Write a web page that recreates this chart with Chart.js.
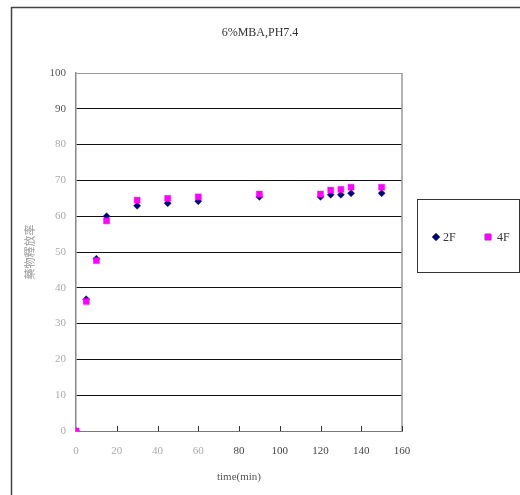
<!DOCTYPE html>
<html>
<head>
<meta charset="utf-8">
<script src="https://cdn.jsdelivr.net/npm/chart.js@4/dist/chart.umd.min.js"></script>
<style>
html,body{margin:0;padding:0;background:#fff;}
canvas{display:block;}
</style>
</head>
<body>
<canvas id="c" width="520" height="495"></canvas>
<script>
const chartTitle = '6%MBA,PH7.4';
const xTitle = 'time(min)';
const yTitle = '藥物釋放率';
const times = [0, 5, 10, 15, 30, 45, 60, 90, 120, 125, 130, 135, 150];
const series2F = [0, 36.8, 48.1, 60.0, 62.9, 63.6, 64.2, 65.4, 65.4, 66.0, 66.0, 66.4, 66.4];
const series4F = [0, 36.2, 47.6, 58.7, 64.5, 65.0, 65.4, 66.2, 66.2, 67.3, 67.5, 68.1, 68.1];
const seriesNames = ['2F', '4F'];
const xTicks = [0, 20, 40, 60, 80, 100, 120, 140, 160];
const yTicks = [0, 10, 20, 30, 40, 50, 60, 70, 80, 90, 100];

const FONT = "'Liberation Serif', 'Times New Roman', serif";
const CJK = "'Liberation Serif', 'Noto Sans CJK TC', serif";

const toPts = (xs, ys) => xs.map((x, i) => ({x: x, y: ys[i]}));

const decor = {
  id: 'decor',
  beforeDraw(chart) {
    const ctx = chart.ctx;
    ctx.save();
    ctx.fillStyle = '#fff';
    ctx.fillRect(0, 0, chart.width, chart.height);
    ctx.restore();
  },
  afterDraw(chart) {
    const ctx = chart.ctx;
    const a = chart.chartArea;
    const xs = chart.scales.x;
    ctx.save();
    // outer frame
    ctx.strokeStyle = '#444';
    ctx.lineWidth = 1.5;
    ctx.strokeRect(11.5, 7.5, 530, 520);
    // plot right border
    ctx.strokeStyle = '#999';
    ctx.lineWidth = 1.5;
    ctx.beginPath();
    ctx.moveTo(a.right, a.top);
    ctx.lineTo(a.right, a.bottom);
    ctx.stroke();
    // inward x tick marks
    ctx.strokeStyle = '#333';
    ctx.lineWidth = 1;
    xs.ticks.forEach(t => {
      if (t.value === 0) return;
      const px = Math.round(xs.getPixelForValue(t.value)) + 0.5;
      ctx.beginPath();
      ctx.moveTo(px, a.bottom);
      ctx.lineTo(px, a.bottom - 5);
      ctx.stroke();
    });
    // legend
    ctx.strokeStyle = '#333';
    ctx.lineWidth = 1;
    ctx.strokeRect(417.5, 199.5, 102, 73);
    const ly = 237;
    const items = [
      {ds: chart.data.datasets[0], mx: 436, tx: 443},
      {ds: chart.data.datasets[1], mx: 488, tx: 497}
    ];
    items.forEach(it => {
      Chart.helpers.drawPoint(ctx, {
        pointStyle: it.ds.pointStyle,
        radius: it.ds.pointRadius,
        borderWidth: it.ds.pointBorderWidth,
        rotation: 0
      }, it.mx, ly);
      ctx.fillStyle = it.ds.backgroundColor;
      ctx.strokeStyle = it.ds.borderColor;
      ctx.lineWidth = it.ds.pointBorderWidth;
      ctx.fill();
      ctx.stroke();
      ctx.fillStyle = '#333';
      ctx.font = '12px ' + FONT;
      ctx.textBaseline = 'middle';
      ctx.textAlign = 'left';
      ctx.fillText(it.ds.label, it.tx, ly + 1);
    });
    ctx.restore();
  }
};

new Chart(document.getElementById('c'), {
  type: 'scatter',
  data: {
    datasets: [
      {
        label: seriesNames[0],
        data: toPts(times, series2F),
        pointStyle: 'rectRot',
        pointRadius: 3.5,
        pointBorderWidth: 0.5,
        backgroundColor: '#000080',
        borderColor: '#000080',
        order: 1
      },
      {
        label: seriesNames[1],
        data: toPts(times, series4F),
        pointStyle: 'rect',
        pointRadius: 4.2,
        pointBorderWidth: 0.5,
        backgroundColor: '#FF00FF',
        borderColor: '#FF00FF',
        order: 0
      }
    ]
  },
  options: {
    responsive: false,
    animation: false,
    events: [],
    layout: {padding: {left: 0, top: 0, right: 0, bottom: 0}},
    plugins: {
      legend: {display: false},
      tooltip: {enabled: false},
      title: {
        display: true,
        text: chartTitle,
        color: '#333',
        font: {family: FONT, size: 12, weight: 'normal'},
        padding: {top: 25.8, bottom: 32.8}
      }
    },
    scales: {
      x: {
        type: 'linear',
        min: 0,
        max: 160,
        afterFit(s) { s.height = 64; },
        afterBuildTicks(s) { s.ticks = xTicks.map(v => ({value: v})); },
        grid: {display: false, drawTicks: false},
        border: {display: true, color: '#777', width: 1},
        ticks: {
          padding: 14,
          maxRotation: 0,
          font: {family: FONT, size: 11},
          color: c => (c.tick && c.tick.value < 80) ? '#aaa' : '#444'
        },
        title: {
          display: true,
          text: xTitle,
          color: '#555',
          font: {family: FONT, size: 11},
          padding: {top: 0, bottom: 11.4}
        }
      },
      y: {
        type: 'linear',
        min: 0,
        max: 100,
        afterFit(s) { s.width = 76; },
        afterBuildTicks(s) { s.ticks = yTicks.map(v => ({value: v})); },
        grid: {
          drawTicks: false,
          lineWidth: 1,
          color: c => (c.tick && (c.tick.value === 0 || c.tick.value === 100)) ? '#999' : '#111'
        },
        border: {display: true, color: '#888', width: 1.5},
        ticks: {
          padding: 10,
          font: {family: FONT, size: 11},
          color: c => (c.tick && c.tick.value >= 90) ? '#555' : '#aaa'
        },
        title: {
          display: true,
          text: yTitle,
          color: '#999',
          font: {family: CJK, size: 11},
          padding: {top: 24.4, bottom: 0}
        }
      },
      legendSpace: {
        type: 'linear',
        position: 'right',
        min: 0,
        max: 1,
        afterFit(s) { s.width = 118; },
        grid: {display: false, drawTicks: false},
        border: {display: false},
        ticks: {display: false}
      }
    }
  },
  plugins: [decor]
});
</script>
</body>
</html>
